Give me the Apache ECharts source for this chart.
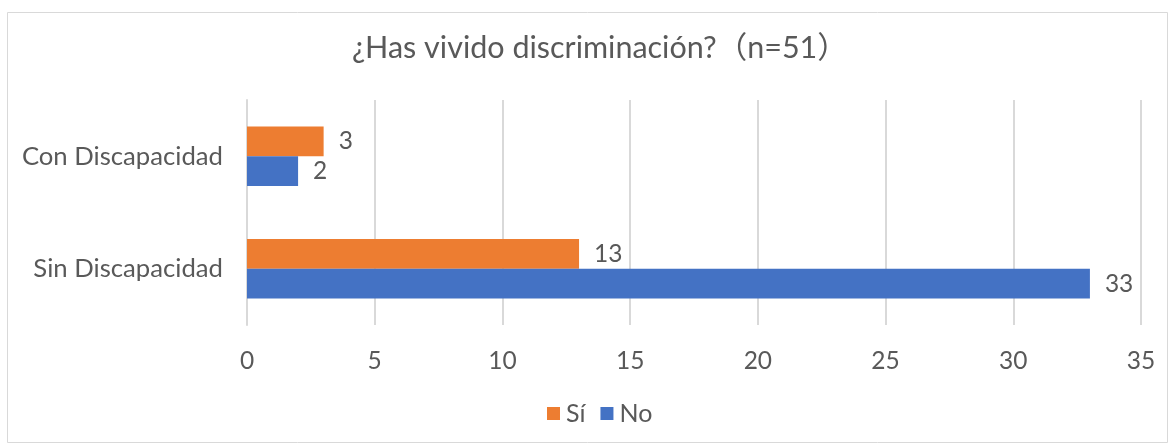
<!DOCTYPE html>
<html>
<head>
<meta charset="utf-8">
<script src="https://cdn.jsdelivr.net/npm/echarts@6/dist/echarts.min.js"></script>
<style>
html,body{margin:0;padding:0;background:#fff;}
#c{width:1171px;height:445px;}
</style>
</head>
<body>
<div id="c"></div>
<script>
const titleText = '¿Has vivido discriminación?（n=51）';
const categories = ['Sin Discapacidad', 'Con Discapacidad'];
const seriesNames = ['Sí', 'No'];
const siValues = [13, 3];
const noValues = [33, 2];
const xTicks = { min: 0, max: 35, interval: 5 };

const FONT = 'Lato, "Noto Sans CJK SC", sans-serif';
const TXT = '#595959';
const chart = echarts.init(document.getElementById('c'), null, { renderer: 'canvas' });
chart.setOption({
  animation: false,
  backgroundColor: '#fff',
  graphic: [{
    type: 'rect', left: 5, top: 10,
    shape: { width: 1160, height: 430 },
    style: { fill: 'none', stroke: '#D9D9D9', lineWidth: 1 }, silent: true, z: -1
  }],
  title: {
    text: titleText, left: 347, top: 28,
    textStyle: { fontFamily: FONT, fontSize: 30.5, fontWeight: 'normal', color: TXT }
  },
  legend: {
    data: seriesNames, bottom: 14, left: 542,
    itemWidth: 13, itemHeight: 13, itemGap: 15,
    icon: 'rect',
    textStyle: { fontFamily: FONT, fontSize: 25, color: TXT, padding: [0, 0, 0, 1] }
  },
  grid: { left: 247, right: 30, top: 100, bottom: 120, containLabel: false },
  xAxis: {
    type: 'value', min: xTicks.min, max: xTicks.max, interval: xTicks.interval,
    axisLine: { show: false }, axisTick: { show: false },
    splitLine: { lineStyle: { color: '#D9D9D9', width: 2 } },
    axisLabel: { fontFamily: FONT, fontSize: 24.5, color: TXT, margin: 24 }
  },
  yAxis: {
    type: 'category', data: categories,
    axisLine: { show: true, lineStyle: { color: '#D9D9D9', width: 2 } },
    axisTick: { show: false },
    axisLabel: { fontFamily: FONT, fontSize: 25.7, color: TXT, margin: 24 }
  },
  series: [
    {
      name: seriesNames[0], type: 'bar', data: siValues,
      itemStyle: { color: '#ED7D31' },
      barGap: '0%', barCategoryGap: '47%',
      label: { show: true, position: 'right', distance: 15, fontFamily: FONT, fontSize: 24.5, color: TXT }
    },
    {
      name: seriesNames[1], type: 'bar', data: noValues,
      itemStyle: { color: '#4472C4' },
      barGap: '0%', barCategoryGap: '47%',
      label: { show: true, position: 'right', distance: 15, fontFamily: FONT, fontSize: 24.5, color: TXT }
    }
  ]
});
</script>
</body>
</html>
